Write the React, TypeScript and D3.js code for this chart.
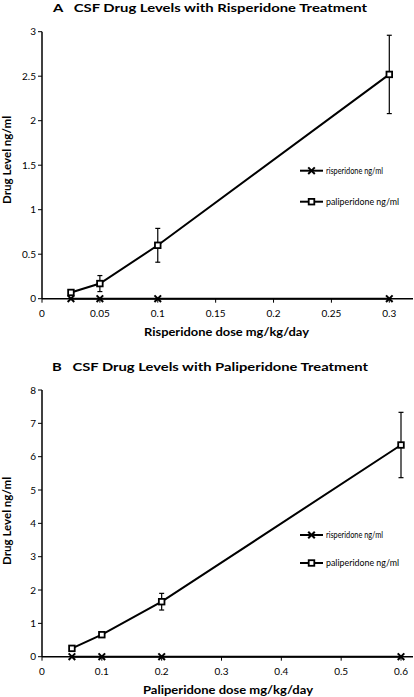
import React from "react";
import * as d3 from "d3";

const dosesA = [0.025, 0.05, 0.1, 0.3];
const risA = [0, 0, 0, 0];
const paliA = [0.07, 0.17, 0.6, 2.52];
const paliErrA = [0.02, 0.09, 0.19, 0.44];
const xTicksA = [0, 0.05, 0.1, 0.15, 0.2, 0.25, 0.3];
const yTicksA = [0, 0.5, 1, 1.5, 2, 2.5, 3];

const dosesB = [0.05, 0.1, 0.2, 0.6];
const risB = [0, 0, 0, 0];
const paliB = [0.25, 0.66, 1.65, 6.35];
const paliErrB = [0.05, 0.08, 0.25, 0.98];
const xTicksB = [0, 0.1, 0.2, 0.3, 0.4, 0.5, 0.6];
const yTicksB = [0, 1, 2, 3, 4, 5, 6, 7, 8];

const seriesNames = ["risperidone ng/ml", "paliperidone ng/ml"];

const FONT = "Lato, 'Open Sans', sans-serif";

type PanelProps = {
  title: string;
  xTitle: string;
  doses: number[];
  ris: number[];
  pali: number[];
  err: number[];
  xTicks: number[];
  yTicks: number[];
  xDomain: [number, number];
  yDomain: [number, number];
  xRange: [number, number];
  yRange: [number, number];
  axisEnd: number;
  titleY: number;
  titleX: [number, number];
  tickLabelY: number;
  xTitleY: number;
  xTitleX: [number, number];
  yLabelCenter: number;
  legendY: [number, number];
};

function XMark({ x, y, s = 3.3 }: { x: number; y: number; s?: number }) {
  return (
    <g stroke="#000" strokeWidth={2}>
      <line x1={x - s} y1={y - s} x2={x + s} y2={y + s} />
      <line x1={x - s} y1={y + s} x2={x + s} y2={y - s} />
    </g>
  );
}

function SqMark({ x, y, s = 2.8 }: { x: number; y: number; s?: number }) {
  return <rect x={x - s} y={y - s} width={2 * s} height={2 * s} fill="#fff" stroke="#000" strokeWidth={1.8} />;
}

function Panel(p: PanelProps) {
  const x = d3.scaleLinear().domain(p.xDomain).range(p.xRange);
  const y = d3.scaleLinear().domain(p.yDomain).range(p.yRange);
  const fmt = (v: number) => String(v);
  const line = d3
    .line<number>()
    .x((_, i) => x(p.doses[i]))
    .y((d) => y(d));
  const x0 = x(0);
  const y0 = y(0);
  const yTop = y(p.yDomain[1]);
  const legX1 = 300;
  const legX2 = 323;
  const legMid = (legX1 + legX2) / 2;
  return (
    <g fontFamily={FONT}>
      <text
        x={p.titleX[0]}
        y={p.titleY}
        fontSize={11}
        fontWeight="bold"
        textLength={p.titleX[1] - p.titleX[0]}
        lengthAdjust="spacingAndGlyphs"
        xmlSpace="preserve"
        style={{ whiteSpace: "pre" }}
      >
        {p.title}
      </text>
      {/* y axis */}
      <line x1={x0} y1={yTop} x2={x0} y2={y0} stroke="#000" strokeWidth={1.5} />
      {p.yTicks.map((t) => (
        <g key={"y" + t}>
          <line x1={x0 - 4} x2={x0} y1={y(t)} y2={y(t)} stroke="#000" strokeWidth={1} />
          <text x={x0 - 6} y={y(t)} dy="0.35em" textAnchor="end" fontSize={10}>
            {fmt(t)}
          </text>
        </g>
      ))}
      {/* x axis */}
      <line x1={x0} y1={y0} x2={p.axisEnd} y2={y0} stroke="#000" strokeWidth={1.5} />
      {p.xTicks.map((t) => (
        <g key={"x" + t}>
          <line x1={x(t)} x2={x(t)} y1={y0} y2={y0 + 4} stroke="#000" strokeWidth={1} />
          <text x={x(t)} y={p.tickLabelY} textAnchor="middle" fontSize={10}>
            {fmt(t)}
          </text>
        </g>
      ))}
      <text
        x={p.xTitleX[0]}
        y={p.xTitleY}
        fontSize={11}
        fontWeight="bold"
        textLength={p.xTitleX[1] - p.xTitleX[0]}
        lengthAdjust="spacingAndGlyphs"
      >
        {p.xTitle}
      </text>
      <text
        transform={`translate(10.5,${p.yLabelCenter}) rotate(-90)`}
        textAnchor="middle"
        fontSize={11}
        fontWeight="bold"
        textLength={88}
        lengthAdjust="spacingAndGlyphs"
      >
        Drug Level ng/ml
      </text>
      {/* error bars */}
      {p.pali.map((v, i) => {
        const cx = x(p.doses[i]);
        const top = y(v + p.err[i]);
        const bot = y(v - p.err[i]);
        return (
          <g key={"e" + i} stroke="#000" strokeWidth={1.2}>
            <line x1={cx} x2={cx} y1={top} y2={bot} />
            <line x1={cx - 2.5} x2={cx + 2.5} y1={top} y2={top} />
            <line x1={cx - 2.5} x2={cx + 2.5} y1={bot} y2={bot} />
          </g>
        );
      })}
      {/* series */}
      <path d={line(p.ris) || ""} fill="none" stroke="#000" strokeWidth={2} />
      <path d={line(p.pali) || ""} fill="none" stroke="#000" strokeWidth={2} />
      {p.ris.map((v, i) => (
        <XMark key={"r" + i} x={x(p.doses[i])} y={y(v)} />
      ))}
      {p.pali.map((v, i) => (
        <SqMark key={"p" + i} x={x(p.doses[i])} y={y(v)} />
      ))}
      {/* legend */}
      <line x1={legX1} x2={legX2} y1={p.legendY[0]} y2={p.legendY[0]} stroke="#000" strokeWidth={2} />
      <XMark x={legMid} y={p.legendY[0]} />
      <text
        x={legX2 + 3}
        y={p.legendY[0]}
        dy="0.35em"
        fontSize={9.5}
        textLength={57}
        lengthAdjust="spacingAndGlyphs"
      >
        {seriesNames[0]}
      </text>
      <line x1={legX1} x2={legX2} y1={p.legendY[1]} y2={p.legendY[1]} stroke="#000" strokeWidth={2} />
      <SqMark x={legMid} y={p.legendY[1]} />
      <text
        x={legX2 + 3}
        y={p.legendY[1]}
        dy="0.35em"
        fontSize={9.5}
        textLength={73}
        lengthAdjust="spacingAndGlyphs"
      >
        {seriesNames[1]}
      </text>
    </g>
  );
}

export default function App() {
  return (
    <div style={{ position: "absolute", left: 0, top: 0, width: 414, height: 697, background: "#fff" }}>
      <svg width={414} height={697} style={{ display: "block" }}>
        <rect width={414} height={697} fill="#fff" />
        <Panel
          title="A   CSF Drug Levels with Risperidone Treatment"
          xTitle="Risperidone dose mg/kg/day"
          doses={dosesA}
          ris={risA}
          pali={paliA}
          err={paliErrA}
          xTicks={xTicksA}
          yTicks={yTicksA}
          xDomain={[0, 0.3]}
          yDomain={[0, 3]}
          xRange={[42, 389.3]}
          yRange={[298.7, 31.7]}
          axisEnd={413}
          titleY={11.5}
          titleX={[53, 367]}
          tickLabelY={317}
          xTitleY={335.5}
          xTitleX={[144, 309]}
          yLabelCenter={160}
          legendY={[170.7, 201.7]}
        />
        <Panel
          title="B   CSF Drug Levels with Paliperidone Treatment"
          xTitle="Paliperidone dose mg/kg/day"
          doses={dosesB}
          ris={risB}
          pali={paliB}
          err={paliErrB}
          xTicks={xTicksB}
          yTicks={yTicksB}
          xDomain={[0, 0.6]}
          yDomain={[0, 8]}
          xRange={[42, 401]}
          yRange={[656.7, 390]}
          axisEnd={413}
          titleY={370.5}
          titleX={[52, 368]}
          tickLabelY={675}
          xTitleY={693.5}
          xTitleX={[143, 313]}
          yLabelCenter={521}
          legendY={[535, 563]}
        />
      </svg>
    </div>
  );
}
